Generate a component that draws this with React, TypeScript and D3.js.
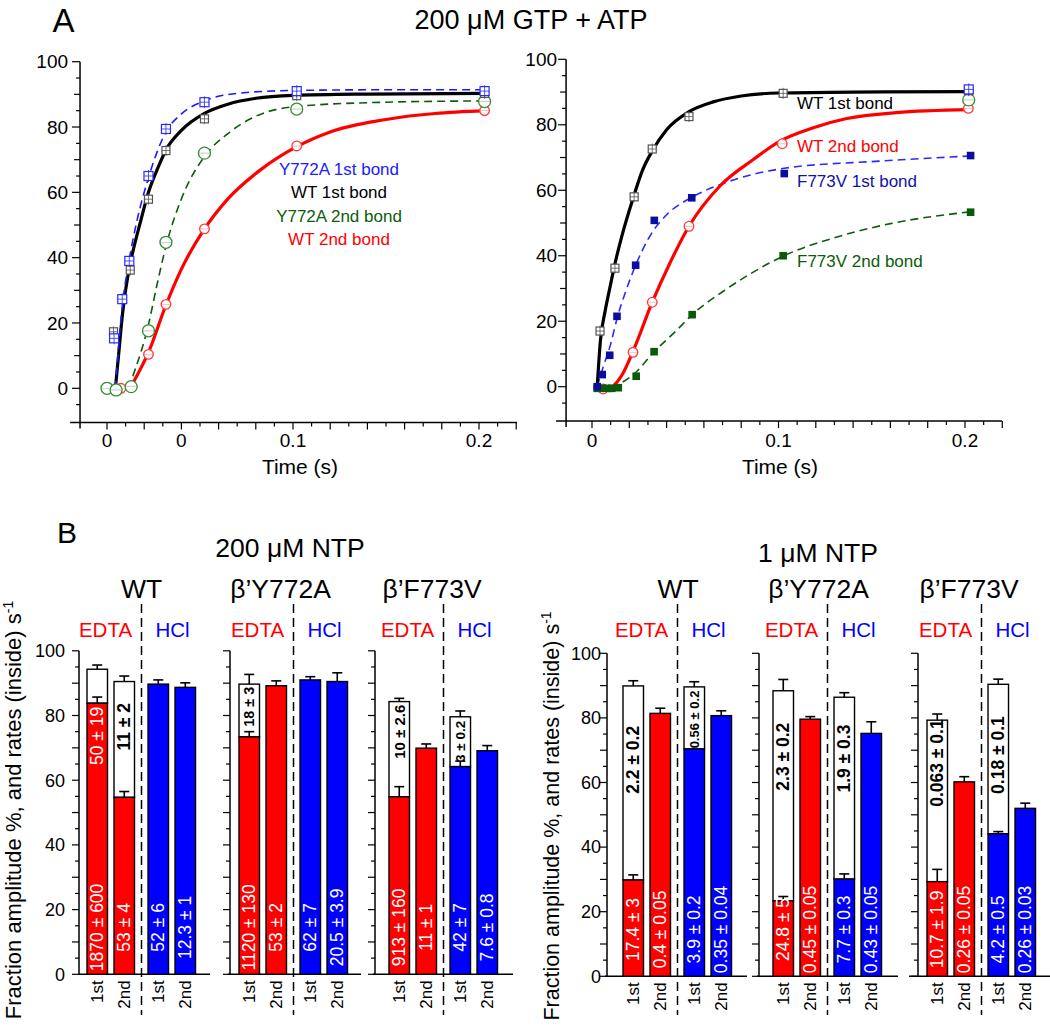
import React from "react";
import * as d3 from "d3";

type P = [number, number];
type N = number | null;
type S = string | null;

const FONT = "'Liberation Sans', Arial, Helvetica, sans-serif";

// ---------------- Panel A data (time in s, % product) ----------------
const A_TITLE = "200 μM GTP + ATP";
const A_LEFT_X_LABELS: [number, string][] = [[0, "0"], [0.04, "0"], [0.1, "0.1"], [0.2, "0.2"]];
const A_RIGHT_X_LABELS: [number, string][] = [[0, "0"], [0.1, "0.1"], [0.2, "0.2"]];
const A_Y_LABELS = [0, 20, 40, 60, 80, 100];

// left plot: measured points
const L_Y772A_1ST: P[] = [[0.0038, 15.3], [0.0082, 27.3], [0.012, 39], [0.0223, 65], [0.0317, 79.4], [0.0524, 87.6], [0.102, 91], [0.203, 91]];
const L_WT_1ST: P[] = [[0.0035, 17.3], [0.0125, 36.2], [0.0223, 57.9], [0.0317, 72.8], [0.0524, 82.5], [0.102, 89.6], [0.203, 90.3]];
const L_Y772A_2ND: P[] = [[0, 0], [0.0049, -0.5], [0.013, 0.5], [0.0223, 17.6], [0.0317, 44.7], [0.0524, 72], [0.102, 85.5], [0.203, 87.8]];
const L_WT_2ND: P[] = [[0.0075, 0], [0.0223, 10.4], [0.0317, 25.7], [0.0524, 48.8], [0.102, 74.2], [0.203, 85]];
// left plot: fitted curves
const L_FIT_Y772A_1ST: P[] = [[0.0045, 0], [0.0082, 25], [0.012, 39.5], [0.016, 51], [0.0223, 64.5], [0.0317, 78.5], [0.04, 84], [0.0524, 88], [0.07, 90.3], [0.1, 91.2], [0.15, 91.4], [0.203, 91.4]];
const L_FIT_WT_1ST: P[] = [[0.0045, 0], [0.0062, 10], [0.0082, 22], [0.0124, 38], [0.0141, 42.3], [0.018, 51], [0.0223, 60], [0.027, 67], [0.0317, 73], [0.04, 79], [0.0524, 84.2], [0.065, 87], [0.08, 88.8], [0.1, 89.7], [0.14, 90.1], [0.203, 90.3]];
const L_FIT_Y772A_2ND: P[] = [[0.0115, 0], [0.015, 5.5], [0.0223, 19.5], [0.027, 32], [0.0317, 43.5], [0.04, 58], [0.0524, 71], [0.065, 78], [0.08, 83.3], [0.102, 86.3], [0.15, 87.6], [0.203, 88]];
const L_FIT_WT_2ND: P[] = [[0.0122, 0], [0.016, 3.8], [0.0223, 11], [0.0317, 25.5], [0.04, 36.5], [0.0524, 48.8], [0.065, 58], [0.0823, 66.8], [0.102, 74], [0.12, 78.5], [0.15, 82.3], [0.203, 85]];
const L_LEGEND = ["Y772A 1st bond", "WT 1st bond", "Y772A 2nd bond", "WT 2nd bond"];

// right plot: measured points
const R_WT_1ST: P[] = [[0.0043, 17], [0.0123, 36.2], [0.0226, 58], [0.0323, 72.6], [0.052, 82.5], [0.1025, 89.6], [0.202, 90.4]];
const R_WT_2ND: P[] = [[0.006, -0.7], [0.022, 10.5], [0.0323, 25.8], [0.052, 49], [0.102, 74.2], [0.2018, 85]];
const R_F773V_1ST: P[] = [[0.0028, 0], [0.0055, 3.7], [0.0095, 9.6], [0.0134, 21.5], [0.0234, 37.1], [0.0334, 50.8], [0.0535, 57.7], [0.1031, 65.1], [0.203, 70.6]];
const R_F773V_2ND: P[] = [[0.0028, -0.5], [0.0052, -0.5], [0.0082, -0.5], [0.0106, -0.5], [0.0141, -0.3], [0.0237, 3.2], [0.0333, 10.7], [0.0537, 22], [0.1025, 40], [0.203, 53.3]];
const R_Y772A_1ST_END: P[] = [[0.202, 90.8]];
const R_Y772A_2ND_END: P[] = [[0.202, 87.6]];
// right plot: fitted curves
const R_FIT_WT_1ST: P[] = [[0.0028, 0], [0.0045, 14], [0.007, 23], [0.0095, 30], [0.0123, 37.5], [0.016, 46], [0.022, 57.5], [0.027, 66], [0.0323, 72], [0.04, 78.5], [0.052, 84], [0.065, 87], [0.08, 88.8], [0.1, 89.7], [0.14, 90], [0.202, 90.1]];
const R_FIT_WT_2ND: P[] = [[0.005, -1], [0.008, -1], [0.011, 0], [0.016, 3.5], [0.022, 10.8], [0.0323, 25.8], [0.0418, 37.8], [0.052, 49], [0.0686, 61.3], [0.0865, 69.4], [0.1008, 75], [0.1187, 79.1], [0.1366, 81.9], [0.163, 83.7], [0.2018, 84.6]];
const R_FIT_F773V_1ST: P[] = [[0.0027, 0], [0.006, 6], [0.01, 13], [0.0135, 21], [0.018, 29], [0.0237, 37.5], [0.03, 45], [0.0333, 48], [0.04, 52.5], [0.054, 58], [0.07, 62], [0.103, 66.7], [0.154, 68.9], [0.204, 70.5]];
const R_FIT_F773V_2ND: P[] = [[0.01, 0], [0.015, 1], [0.0237, 4.5], [0.033, 10.5], [0.045, 17], [0.0537, 22], [0.07, 29], [0.085, 34.5], [0.103, 40], [0.13, 45.5], [0.16, 49.8], [0.204, 53.5]];
const R_LEGEND = ["WT 1st bond", "WT 2nd bond", "F773V 1st bond", "F773V 2nd bond"];

// ---------------- Panel B data ----------------
const B_CATEGORIES = ["1st", "2nd", "1st", "2nd"];
const B_CONDITIONS = ["EDTA", "HCl"];
const B_ENZYMES = ["WT", "β’Y772A", "β’F773V"];
const B_GROUPS = ["200 μM NTP", "1 μM NTP"];
const B_Y_LABELS = [0, 20, 40, 60, 80, 100];
const B_Y_TITLE = "Fraction amplitude %, and rates (inside) s";

// 200 µM NTP
const HI_WT_FAST: number[] = [83.8, 54.7, 89.7, 88.7];
const HI_WT_FAST_ERR: N[] = [85.7, 56.5, 91.0, 90.1];
const HI_WT_TOTAL: N[] = [94.3, 90.5, null, null];
const HI_WT_TOTAL_ERR: N[] = [95.6, 92.2, null, null];
const HI_WT_RATE: string[] = ["1870 ± 600", "53 ± 4", "52 ± 6", "12.3 ± 1"];
const HI_WT_RATE2: S[] = ["50 ± 19", "11 ± 2", null, null];
const HI_WT_RATE2_AT: N[] = [73.7, 76.5, null, null];

const HI_Y_FAST: number[] = [73.4, 89.2, 91.0, 90.5];
const HI_Y_FAST_ERR: N[] = [75.0, 90.7, 92.0, 93.2];
const HI_Y_TOTAL: N[] = [89.7, null, null, null];
const HI_Y_TOTAL_ERR: N[] = [92.7, null, null, null];
const HI_Y_RATE: string[] = ["1120 ± 130", "53 ± 2", "62 ± 7", "20.5 ± 3.9"];
const HI_Y_RATE2: S[] = ["18 ± 3", null, null, null];
const HI_Y_RATE2_AT: N[] = [82.7, null, null, null];

const HI_F_FAST: number[] = [54.9, 69.9, 64.2, 69.1];
const HI_F_FAST_ERR: N[] = [58.0, 71.2, 65.9, 70.7];
const HI_F_TOTAL: N[] = [84.3, null, 79.6, null];
const HI_F_TOTAL_ERR: N[] = [85.3, null, 81.4, null];
const HI_F_RATE: string[] = ["913 ± 160", "11 ± 1", "42 ± 7", "7.6 ± 0.8"];
const HI_F_RATE2: S[] = ["10 ± 2.6", null, "3 ± 0.2", null];
const HI_F_RATE2_AT: N[] = [75, null, 72, null];

// 1 µM NTP
const LO_WT_FAST: number[] = [29.8, 81.4, 70.4, 80.7];
const LO_WT_FAST_ERR: N[] = [31.4, 83.0, null, 82.2];
const LO_WT_TOTAL: N[] = [89.9, null, 89.6, null];
const LO_WT_TOTAL_ERR: N[] = [91.5, null, 91.2, null];
const LO_WT_RATE: string[] = ["17.4 ± 3", "0.4 ± 0.05", "3.9 ± 0.2", "0.35 ± 0.04"];
const LO_WT_RATE2: S[] = ["2.2 ± 0.2", null, "0.56 ± 0.2", null];
const LO_WT_RATE2_AT: N[] = [67, null, 79.5, null];

const LO_Y_FAST: number[] = [23.4, 79.6, 30.1, 75.2];
const LO_Y_FAST_ERR: N[] = [24.7, 80.4, 31.7, 78.8];
const LO_Y_TOTAL: N[] = [88.4, null, 86.4, null];
const LO_Y_TOTAL_ERR: N[] = [91.9, null, 87.8, null];
const LO_Y_RATE: string[] = ["24.8 ± 5", "0.45 ± 0.05", "7.7 ± 0.3", "0.43 ± 0.05"];
const LO_Y_RATE2: S[] = ["2.3 ± 0.2", null, "1.9 ± 0.3", null];
const LO_Y_RATE2_AT: N[] = [68, null, 67.4, null];

const LO_F_FAST: number[] = [29.3, 60.2, 44.1, 52.0];
const LO_F_FAST_ERR: N[] = [33.1, 61.8, 44.8, 53.6];
const LO_F_TOTAL: N[] = [79.3, null, 90.4, null];
const LO_F_TOTAL_ERR: N[] = [81.2, null, 92.0, null];
const LO_F_RATE: string[] = ["10.7 ± 1.9", "0.26 ± 0.05", "4.2 ± 0.5", "0.26 ± 0.03"];
const LO_F_RATE2: S[] = ["0.063 ± 0.1", null, "0.18 ± 0.1", null];
const LO_F_RATE2_AT: N[] = [66, null, 68.5, null];

// ---------------- styles / layout ----------------
const RED = "#ff0000";
const BLUE = "#0000ff";
const LBLUE = "#1a1aff";
const NAVY = "#1212a6";
const DKGREEN = "#0b5d0b";
const MKGREEN = "#3a8a3a";
const SMALL_LABEL_SIZE: Record<string, number> = { "0.56 ± 0.2": 13, "3 ± 0.2": 13.5, "18 ± 3": 14.5, "10 ± 2.6": 15 };
const SLOTS = [0, 1, 2.26, 3.26];
const HI_LAYOUT = [
  { axisX: 79, xStart: 79, xEnd: 210, bar0: 87, titleX: 141.7 },
  { axisX: 230, xStart: 228, xEnd: 361, bar0: 239, titleX: 280.5 },
  { axisX: 375, xStart: 373, xEnd: 513, bar0: 389, titleX: 432 },
];
const LO_LAYOUT = [
  { axisX: 607, xStart: 605, xEnd: 747, bar0: 623, titleX: 678 },
  { axisX: 759, xStart: 757, xEnd: 898, bar0: 773, titleX: 818.5 },
  { axisX: 918, xStart: 909, xEnd: 1050, bar0: 927, titleX: 969 },
];

type Bars = { fast: number[]; fastErr: N[]; total: N[]; totalErr: N[]; rate: string[]; rate2: S[]; rate2At: N[] };
const HI_DATA: Bars[] = [
  { fast: HI_WT_FAST, fastErr: HI_WT_FAST_ERR, total: HI_WT_TOTAL, totalErr: HI_WT_TOTAL_ERR, rate: HI_WT_RATE, rate2: HI_WT_RATE2, rate2At: HI_WT_RATE2_AT },
  { fast: HI_Y_FAST, fastErr: HI_Y_FAST_ERR, total: HI_Y_TOTAL, totalErr: HI_Y_TOTAL_ERR, rate: HI_Y_RATE, rate2: HI_Y_RATE2, rate2At: HI_Y_RATE2_AT },
  { fast: HI_F_FAST, fastErr: HI_F_FAST_ERR, total: HI_F_TOTAL, totalErr: HI_F_TOTAL_ERR, rate: HI_F_RATE, rate2: HI_F_RATE2, rate2At: HI_F_RATE2_AT },
];
const LO_DATA: Bars[] = [
  { fast: LO_WT_FAST, fastErr: LO_WT_FAST_ERR, total: LO_WT_TOTAL, totalErr: LO_WT_TOTAL_ERR, rate: LO_WT_RATE, rate2: LO_WT_RATE2, rate2At: LO_WT_RATE2_AT },
  { fast: LO_Y_FAST, fastErr: LO_Y_FAST_ERR, total: LO_Y_TOTAL, totalErr: LO_Y_TOTAL_ERR, rate: LO_Y_RATE, rate2: LO_Y_RATE2, rate2At: LO_Y_RATE2_AT },
  { fast: LO_F_FAST, fastErr: LO_F_FAST_ERR, total: LO_F_TOTAL, totalErr: LO_F_TOTAL_ERR, rate: LO_F_RATE, rate2: LO_F_RATE2, rate2At: LO_F_RATE2_AT },
];

// ---------------- helpers ----------------
function OpenSq({ cx, cy, s, c }: { cx: number; cy: number; s: number; c: string }) {
  return (
    <g>
      <rect x={cx - s / 2} y={cy - s / 2} width={s} height={s} fill="white" stroke={c} strokeWidth={1.2} />
      <line x1={cx - s / 2} x2={cx + s / 2} y1={cy} y2={cy} stroke={c} strokeWidth={0.8} />
      <line x1={cx} x2={cx} y1={cy - s / 2 - 1.5} y2={cy + s / 2 + 1.5} stroke={c} strokeWidth={0.8} />
    </g>
  );
}
function OpenCirc({ cx, cy, r, c }: { cx: number; cy: number; r: number; c: string }) {
  return (
    <g>
      <circle cx={cx} cy={cy} r={r} fill="white" stroke={c} strokeWidth={1.3} />
      <line x1={cx - r} x2={cx + r} y1={cy} y2={cy} stroke={c} strokeWidth={0.6} opacity={0.6} />
    </g>
  );
}

function TopAxes({ x, y, xMin, xMax, labels, yGap, titleX }: any) {
  const xAxisY = y(-10.5);
  const yAxisX = x(xMin);
  const xt = d3.range(0, 23).map((k) => k / 100).filter((t) => t <= xMax + 0.001);
  const yt = d3.range(-5, 101, 5);
  return (
    <g fontFamily={FONT} fill="black">
      <line x1={yAxisX - 10} x2={x(xMax)} y1={xAxisY} y2={xAxisY} stroke="black" strokeWidth={1.5} />
      <line x1={yAxisX} x2={yAxisX} y1={y(100)} y2={xAxisY + 6} stroke="black" strokeWidth={1.5} />
      {xt.map((t, i) => (
        <line key={"xt" + i} x1={x(t)} x2={x(t)} y1={xAxisY} y2={xAxisY + (Math.round(t * 100) % 2 === 0 ? 7 : 4)} stroke="black" strokeWidth={1.2} />
      ))}
      {yt.map((v) => (
        <line key={"yt" + v} x1={yAxisX - (v % 20 === 0 ? 8 : v % 10 === 0 ? 6 : 4)} x2={yAxisX} y1={y(v)} y2={y(v)} stroke="black" strokeWidth={1.2} />
      ))}
      {A_Y_LABELS.map((v) => (
        <text key={"yl" + v} x={yAxisX - yGap} y={y(v)} dy="0.35em" textAnchor="end" fontSize={19}>{v}</text>
      ))}
      {labels.map(([t, s]: [number, string], i: number) => (
        <text key={"xl" + i} x={x(t)} y={447} textAnchor="middle" fontSize={19}>{s}</text>
      ))}
      <text x={titleX} y={474} textAnchor="middle" fontSize={21}>Time (s)</text>
    </g>
  );
}

function BarPanel({ L, y, d, enzyme, showY, yGap }: any) {
  const slotX = d3.scaleLinear().domain([0, 1]).range([L.bar0, L.bar0 + 27]);
  const BW = 20.5;
  const dashX = L.bar0 + 54.5;
  const y0 = y(0);
  const yt = d3.range(0, 101, 5);
  const err = (xc: number, from: number, to: N, k: string) =>
    to == null ? null : (
      <g key={k}>
        <line x1={xc} x2={xc} y1={y(from)} y2={y(to)} stroke="black" strokeWidth={1.6} />
        <line x1={xc - 5} x2={xc + 5} y1={y(to)} y2={y(to)} stroke="black" strokeWidth={1.6} />
      </g>
    );
  return (
    <g fontFamily={FONT}>
      <text x={L.titleX} y={598} textAnchor="middle" fontSize={26.5}>{enzyme}</text>
      <text x={dashX - 36} y={637} textAnchor="middle" fontSize={20.5} fill={RED}>{B_CONDITIONS[0]}</text>
      <text x={dashX + 31} y={637} textAnchor="middle" fontSize={20.5} fill={BLUE}>{B_CONDITIONS[1]}</text>
      <line x1={dashX} x2={dashX} y1={604} y2={1015} stroke="black" strokeWidth={1.5} strokeDasharray="9,5" />
      <line x1={L.axisX} x2={L.axisX} y1={y(100)} y2={y0} stroke="black" strokeWidth={1.5} />
      <line x1={L.xStart} x2={L.xEnd} y1={y0} y2={y0} stroke="black" strokeWidth={1.5} />
      {yt.map((v) => (
        <line key={"t" + v} x1={L.axisX - (v % 10 === 0 ? 7 : 4)} x2={L.axisX} y1={y(v)} y2={y(v)} stroke="black" strokeWidth={1.2} />
      ))}
      {showY && B_Y_LABELS.map((v) => (
        <text key={"l" + v} x={L.axisX - yGap} y={y(v)} dy="0.35em" textAnchor="end" fontSize={18}>{v}</text>
      ))}
      {B_CATEGORIES.map((c, i) => {
        const x = slotX(SLOTS[i]);
        const xc = x + BW / 2;
        const col = i < 2 ? RED : BLUE;
        const f = d.fast[i];
        const tot = d.total[i];
        const r2 = d.rate2[i];
        const r2at = d.rate2At[i];
        const inside = r2 != null && r2at != null && r2at < f;
        return (
          <g key={"b" + i}>
            {tot != null && (
              <rect x={x} y={y(tot)} width={BW} height={y(f) - y(tot)} fill="white" stroke="black" strokeWidth={1.4} />
            )}
            <rect x={x} y={y(f)} width={BW} height={y0 - y(f)} fill={col} stroke="black" strokeWidth={1.4} />
            {err(xc, f, d.fastErr[i], "fe")}
            {tot != null && err(xc, tot, d.totalErr[i], "te")}
            <text transform={`translate(${xc},${y(14.5)}) rotate(-90)`} textAnchor="middle" dominantBaseline="central" fontSize={17.5} fill="white">{d.rate[i]}</text>
            {r2 != null && r2at != null && (
              <text transform={`translate(${xc},${y(r2at)}) rotate(-90)`} textAnchor="middle" dominantBaseline="central"
                fontSize={SMALL_LABEL_SIZE[r2] ?? 17.5} fontWeight={inside ? "normal" : "bold"} fill={inside ? "white" : "black"}>{r2}</text>
            )}
            <text transform={`translate(${xc},${y0 + 6}) rotate(-90)`} textAnchor="end" dominantBaseline="central" fontSize={17}>{c}</text>
          </g>
        );
      })}
    </g>
  );
}

export default function App() {
  const xL = d3.scaleLinear().domain([0, 0.2]).range([107, 479]);
  const yL = d3.scaleLinear().domain([0, 100]).range([388.3, 61.7]);
  const xR = d3.scaleLinear().domain([0, 0.2]).range([592, 965]);
  const yR = d3.scaleLinear().domain([0, 100]).range([386.7, 59.3]);
  const lineL = d3.line<P>().x((d) => xL(d[0])).y((d) => yL(d[1])).curve(d3.curveMonotoneX);
  const lineR = d3.line<P>().x((d) => xR(d[0])).y((d) => yR(d[1])).curve(d3.curveMonotoneX);

  const yHi = d3.scaleLinear().domain([0, 100]).range([974.3, 650.8]);
  const yLo = d3.scaleLinear().domain([0, 100]).range([976.3, 653.3]);

  return (
    <svg width={1050} height={1033} style={{ position: "absolute", left: 0, top: 0, background: "white" }} fontFamily={FONT}>
      <rect x={0} y={0} width={1050} height={1033} fill="white" />
      {/* ---------- A ---------- */}
      <text x={52.5} y={32} fontSize={33}>A</text>
      <text x={531} y={29} textAnchor="middle" fontSize={27}>{A_TITLE}</text>

      <TopAxes x={xL} y={yL} xMin={-0.0145} xMax={0.2204} labels={A_LEFT_X_LABELS} yGap={12} titleX={300} />
      <path d={lineL(L_FIT_Y772A_2ND) || ""} fill="none" stroke={DKGREEN} strokeWidth={1.6} strokeDasharray="8,5" />
      <path d={lineL(L_FIT_WT_2ND) || ""} fill="none" stroke={RED} strokeWidth={3.2} />
      <path d={lineL(L_FIT_WT_1ST) || ""} fill="none" stroke="black" strokeWidth={3.2} />
      <path d={lineL(L_FIT_Y772A_1ST) || ""} fill="none" stroke={LBLUE} strokeWidth={1.6} strokeDasharray="8,5" />
      {L_WT_2ND.map((p, i) => <OpenCirc key={"lr" + i} cx={xL(p[0])} cy={yL(p[1])} r={4.8} c="#ff3a3a" />)}
      {L_Y772A_2ND.map((p, i) => <OpenCirc key={"lg" + i} cx={xL(p[0])} cy={yL(p[1])} r={6} c={MKGREEN} />)}
      {L_WT_1ST.map((p, i) => <OpenSq key={"lk" + i} cx={xL(p[0])} cy={yL(p[1])} s={8} c="#555" />)}
      {L_Y772A_1ST.map((p, i) => <OpenSq key={"lb" + i} cx={xL(p[0])} cy={yL(p[1])} s={9} c="#2a2aff" />)}
      {L_LEGEND.map((s, i) => (
        <text key={"lleg" + i} x={339} y={175 + i * 23.4} textAnchor="middle" fontSize={17}
          fill={[LBLUE, "black", DKGREEN, RED][i]}>{s}</text>
      ))}

      <TopAxes x={xR} y={yR} xMin={-0.0139} xMax={0.2198} labels={A_RIGHT_X_LABELS} yGap={9} titleX={780} />
      <path d={lineR(R_FIT_F773V_2ND) || ""} fill="none" stroke={DKGREEN} strokeWidth={1.6} strokeDasharray="8,5" />
      <path d={lineR(R_FIT_F773V_1ST) || ""} fill="none" stroke="#2a2aff" strokeWidth={1.6} strokeDasharray="8,5" />
      <path d={lineR(R_FIT_WT_2ND) || ""} fill="none" stroke={RED} strokeWidth={3.2} />
      <path d={lineR(R_FIT_WT_1ST) || ""} fill="none" stroke="black" strokeWidth={3.2} />
      {R_WT_2ND.map((p, i) => <OpenCirc key={"rr" + i} cx={xR(p[0])} cy={yR(p[1])} r={4.8} c="#ff3a3a" />)}
      {R_Y772A_2ND_END.map((p, i) => <OpenCirc key={"rg" + i} cx={xR(p[0])} cy={yR(p[1])} r={6} c={MKGREEN} />)}
      {R_WT_1ST.map((p, i) => <OpenSq key={"rk" + i} cx={xR(p[0])} cy={yR(p[1])} s={8} c="#555" />)}
      {R_Y772A_1ST_END.map((p, i) => <OpenSq key={"rb" + i} cx={xR(p[0])} cy={yR(p[1])} s={9} c="#2a2aff" />)}
      {R_F773V_2ND.map((p, i) => <rect key={"rfg" + i} x={xR(p[0]) - 3.8} y={yR(p[1]) - 3.8} width={7.6} height={7.6} fill="#0a5a0a" />)}
      {R_F773V_1ST.map((p, i) => <rect key={"rfb" + i} x={xR(p[0]) - 3.8} y={yR(p[1]) - 3.8} width={7.6} height={7.6} fill="#0c0c9e" />)}
      {R_LEGEND.map((s, i) => (
        <text key={"rleg" + i} x={797} y={[109, 152, 187, 267][i]} fontSize={17}
          fill={["black", RED, NAVY, DKGREEN][i]}>{s}</text>
      ))}

      {/* ---------- B ---------- */}
      <text x={57} y={543} fontSize={30}>B</text>
      <text x={290} y={557} textAnchor="middle" fontSize={26.5}>{B_GROUPS[0]}</text>
      <text x={818} y={562} textAnchor="middle" fontSize={26.5}>{B_GROUPS[1]}</text>
      <text transform="translate(21,810) rotate(-90)" textAnchor="middle" fontSize={22}>
        {B_Y_TITLE}<tspan dy={-8} fontSize={14}>-1</tspan>
      </text>
      <text transform="translate(559,816) rotate(-90)" textAnchor="middle" fontSize={21.5}>
        {B_Y_TITLE}<tspan dy={-8} fontSize={14}>-1</tspan>
      </text>
      {HI_DATA.map((d, k) => (
        <BarPanel key={"hi" + k} L={HI_LAYOUT[k]} y={yHi} d={d} enzyme={B_ENZYMES[k]} showY={k === 0} yGap={14} />
      ))}
      {LO_DATA.map((d, k) => (
        <BarPanel key={"lo" + k} L={LO_LAYOUT[k]} y={yLo} d={d} enzyme={B_ENZYMES[k]} showY={k === 0} yGap={6} />
      ))}
    </svg>
  );
}
